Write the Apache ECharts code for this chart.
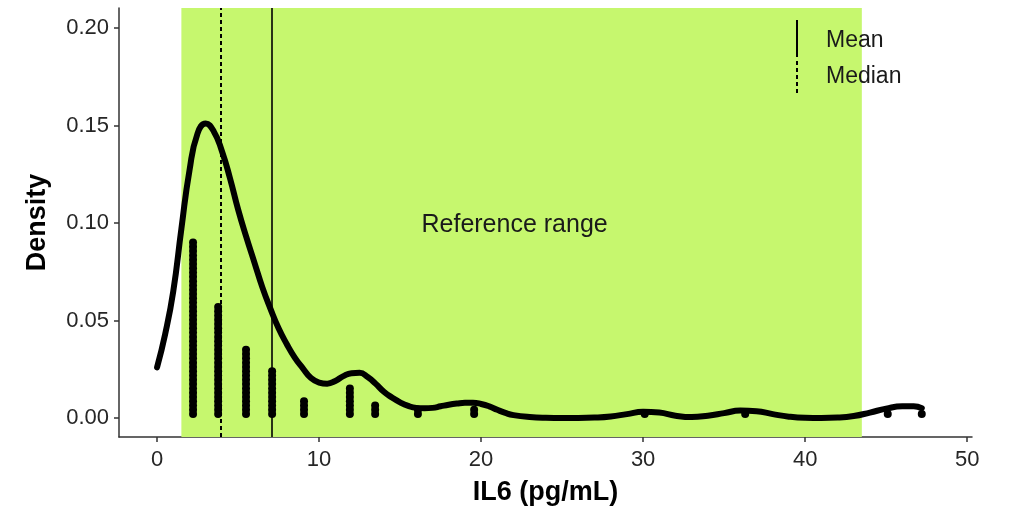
<!DOCTYPE html>
<html>
<head>
<meta charset="utf-8">
<script src="https://cdn.jsdelivr.net/npm/echarts@6/dist/echarts.min.js"></script>
<style>
html,body{margin:0;padding:0;background:#fff;}
#c{width:1009px;height:515px;}
</style>
</head>
<body>
<div id="c"></div>
<script>
// ---- data ----
var xTicks = [0, 10, 20, 30, 40, 50];
var yTicks = [0, 0.05, 0.10, 0.15, 0.20];
var densityX = [0, 0.5, 1.0, 1.5, 2.0, 2.5, 3.0, 3.5, 4.0, 4.5, 5.0, 5.5, 6.0, 6.5, 7.0, 7.5, 8.0, 8.5, 9.0, 9.5, 10.0, 10.5, 11.0, 11.5, 12.0, 12.5, 13.0, 13.5, 14.0, 14.5, 15.0, 15.5, 16.0, 16.5, 17.0, 17.5, 18.0, 18.5, 19.0, 19.5, 20.0, 20.5, 21.0, 21.5, 22.0, 23.0, 24.0, 25.0, 26.0, 27.0, 28.0, 29.0, 30.0, 31.0, 32.0, 33.0, 34.0, 35.0, 36.0, 37.0, 38.0, 39.0, 40.0, 41.0, 42.0, 43.0, 44.0, 45.0, 46.0, 46.7, 47.2];
var densityY = [0.026, 0.043, 0.065, 0.097, 0.127, 0.146, 0.151, 0.147, 0.137, 0.123, 0.107, 0.093, 0.080, 0.067, 0.056, 0.046, 0.038, 0.031, 0.0255, 0.0205, 0.0182, 0.0176, 0.019, 0.0215, 0.023, 0.0232, 0.021, 0.0175, 0.0135, 0.0105, 0.008, 0.0062, 0.0052, 0.005, 0.0052, 0.006, 0.0068, 0.0074, 0.0078, 0.0078, 0.0072, 0.006, 0.0042, 0.0026, 0.0015, 0.0005, 0.0001, 0.0, 0.0, 0.0002, 0.0008, 0.002, 0.0032, 0.0028, 0.0012, 0.0005, 0.0012, 0.0025, 0.0038, 0.0035, 0.002, 0.0007, 0.0001, 0.0, 0.0002, 0.001, 0.0028, 0.0048, 0.006, 0.006, 0.005];
var dotX = [2.22, 3.77, 5.49, 7.1, 9.07, 11.9, 13.46, 16.1, 19.57, 30.1, 36.3, 45.1, 47.2];
var dotCount = [41, 26, 16, 11, 4, 7, 3, 2, 2, 1, 1, 1, 1];
var dotBase = 0.002, dotStep = 0.0022;
var meanVal = 7.1;
var medianVal = 3.93;
var refRange = [1.5, 43.5];

var densityData = densityX.map(function (x, i) { return [x, densityY[i]]; });
var dotData = [];
dotX.forEach(function (x, i) {
  for (var k = 0; k < dotCount[i]; k++) dotData.push([x, dotBase + k * dotStep]);
});

var FONT = 'Liberation Sans';
var chart = echarts.init(document.getElementById('c'));
chart.setOption({
  animation: false,
  backgroundColor: '#ffffff',
  grid: { left: 119, right: 37, top: 8, bottom: 78 },
  xAxis: {
    type: 'value', min: -2.35, max: 50.3,
    name: 'IL6 (pg/mL)', nameLocation: 'middle', nameGap: 42,
    nameTextStyle: { fontFamily: FONT, fontSize: 27, fontWeight: 'bold', color: '#000' },
    axisLine: { show: true, onZero: false, lineStyle: { color: '#333', width: 1.5 } },
    axisTick: { show: true, customValues: xTicks, length: 5, lineStyle: { color: '#333', width: 1.5 } },
    axisLabel: { customValues: xTicks, margin: 12, fontFamily: FONT, fontSize: 22, color: '#262626' },
    splitLine: { show: false }
  },
  yAxis: {
    type: 'value', min: -0.00974, max: 0.2103,
    name: 'Density', nameLocation: 'middle', nameGap: 68, nameRotate: 90,
    nameTextStyle: { fontFamily: FONT, fontSize: 27, fontWeight: 'bold', color: '#000' },
    axisLine: { show: true, onZero: false, lineStyle: { color: '#333', width: 1.5 } },
    axisTick: { show: true, customValues: yTicks, length: 5, lineStyle: { color: '#333', width: 1.5 } },
    axisLabel: { customValues: yTicks, margin: 10, fontFamily: FONT, fontSize: 22, color: '#262626',
      formatter: function (v) { return v.toFixed(2); } },
    splitLine: { show: false }
  },
  series: [
    {
      type: 'line', data: [], z: 1, silent: true,
      markArea: {
        silent: true,
        itemStyle: { color: '#c6f76e' },
        label: { show: true, position: 'inside', offset: [-7, 3], color: '#1a1a1a', fontFamily: FONT, fontSize: 25 },
        data: [[{ xAxis: refRange[0], name: 'Reference range' }, { xAxis: refRange[1] }]]
      },
      markLine: {
        silent: true, symbol: ['none', 'none'], label: { show: false },
        data: [
          { xAxis: meanVal, lineStyle: { color: '#000', width: 1.6, type: 'solid' } },
          { xAxis: medianVal, lineStyle: { color: '#000', width: 2, type: [4, 3] } }
        ]
      }
    },
    {
      type: 'scatter', data: dotData, z: 3, symbolSize: 8, silent: true,
      itemStyle: { color: '#000', opacity: 1 }
    },
    {
      type: 'line', data: densityData, z: 4, smooth: 0.5, showSymbol: false, silent: true,
      lineStyle: { color: '#000', width: 6, cap: 'round', join: 'round' }
    }
  ],
  graphic: [
    { type: 'line', z: 100, shape: { x1: 797, y1: 20, x2: 797, y2: 57 }, style: { stroke: '#000', lineWidth: 2 } },
    { type: 'line', z: 100, shape: { x1: 797, y1: 61, x2: 797, y2: 95 }, style: { stroke: '#000', lineWidth: 2, lineDash: [4, 3] } },
    { type: 'text', z: 100, x: 826, y: 41, style: { text: 'Mean', fontFamily: FONT, fontSize: 23, fill: '#1a1a1a', verticalAlign: 'middle' } },
    { type: 'text', z: 100, x: 826, y: 77, style: { text: 'Median', fontFamily: FONT, fontSize: 23, fill: '#1a1a1a', verticalAlign: 'middle' } }
  ]
});
</script>
</body>
</html>
